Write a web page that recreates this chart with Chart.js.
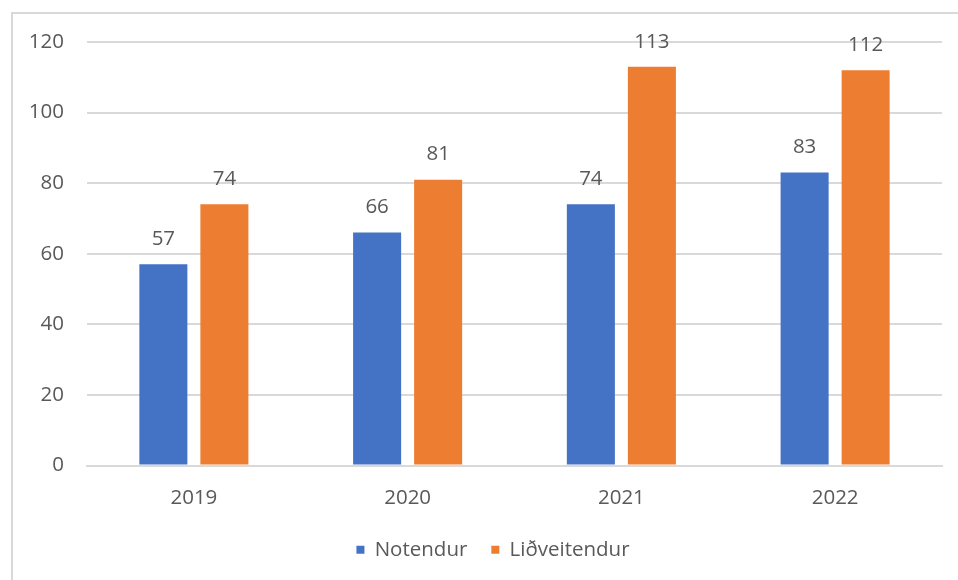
<!DOCTYPE html>
<html>
<head>
<meta charset="utf-8">
<script src="https://cdn.jsdelivr.net/npm/chart.js@4.4.1/dist/chart.umd.min.js"></script>
<style>
  html, body { margin: 0; padding: 0; background: #ffffff; }
  #wrap { position: relative; width: 958px; height: 580px; overflow: hidden; }
  #frame { position: absolute; left: 11px; top: 12px; width: 1000px; height: 1000px; border: 2px solid #d9d9d9; box-sizing: border-box; }
  canvas { position: absolute; left: 0; top: 0; }
</style>
</head>
<body>
<div id="wrap">
  <div id="frame"></div>
  <canvas id="c" width="958" height="580"></canvas>
</div>
<script>
const categories = ['2019', '2020', '2021', '2022'];
const notendur = [57, 66, 74, 83];
const lidveitendur = [74, 81, 113, 112];
const yTicks = [0, 20, 40, 60, 80, 100, 120];

const FONT = "'Open Sans', 'Liberation Sans', sans-serif";
const FS = 20.5;
const TEXT = '#595959';

const valueLabels = {
  id: 'valueLabels',
  afterDatasetsDraw(chart) {
    const ctx = chart.ctx;
    ctx.save();
    ctx.font = FS + 'px ' + FONT;
    ctx.fillStyle = TEXT;
    ctx.textAlign = 'center';
    ctx.textBaseline = 'middle';
    chart.data.datasets.forEach((ds, i) => {
      const meta = chart.getDatasetMeta(i);
      meta.data.forEach((bar, j) => {
        ctx.fillText(String(ds.data[j]), bar.x, bar.y - 25);
      });
    });
    ctx.restore();
  }
};

const shiftLegend = {
  id: 'shiftLegend',
  afterLayout(chart) {
    if (chart.legend) {
      chart.legend.left += 22;
      chart.legend.right += 22;
    }
  }
};

new Chart(document.getElementById('c'), {
  type: 'bar',
  data: {
    labels: categories,
    datasets: [
      { label: 'Notendur', data: notendur, backgroundColor: '#4472C4', categoryPercentage: 0.571, barPercentage: 0.787 },
      { label: 'Liðveitendur', data: lidveitendur, backgroundColor: '#ED7D31', categoryPercentage: 0.571, barPercentage: 0.787 }
    ]
  },
  options: {
    responsive: false,
    animation: false,
    layout: { padding: { left: 0, right: 16, top: 42, bottom: 10 } },
    plugins: {
      tooltip: { enabled: false },
      legend: {
        position: 'bottom',
        labels: {
          boxWidth: 8, boxHeight: 8, padding: 24,
          color: TEXT,
          font: { family: FONT, size: FS }
        }
      }
    },
    scales: {
      x: {
        grid: { display: false, drawTicks: false },
        border: { display: true, color: '#d9d9d9', width: 2 },
        ticks: { color: TEXT, font: { family: FONT, size: FS }, padding: 20 },
        afterFit(scale) { scale.height = 50; }
      },
      y: {
        min: 0, max: 120,
        afterBuildTicks(scale) { scale.ticks = yTicks.map(v => ({ value: v })); },
        grid: { color: '#d9d9d9', lineWidth: 2, drawTicks: false },
        border: { display: false },
        ticks: { color: TEXT, font: { family: FONT, size: FS }, padding: 23 },
        afterFit(scale) { scale.width = 87; }
      }
    }
  },
  plugins: [valueLabels, shiftLegend]
});
</script>
</body>
</html>
